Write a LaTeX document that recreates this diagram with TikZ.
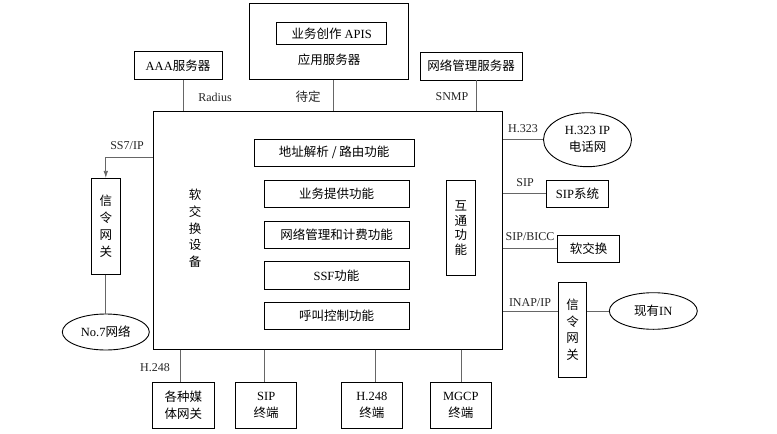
\documentclass[tikz,border=0pt]{standalone}
\usepackage{fontspec}
\setmainfont{Liberation Serif}
\newfontfamily\cjk{Noto Sans CJK SC}
\usetikzlibrary{shapes.geometric,arrows.meta}
\newcommand\zhs[1]{{\cjk #1}}
\begin{document}
\begin{tikzpicture}[x=1pt,y=-1pt,
  box/.style={draw=black,line width=0.9pt,inner sep=0pt,text=black,align=center,
              font=\fontsize{12.5}{17}\selectfont},
  oval/.style={box,ellipse},
  conn/.style={draw=black!60,line width=0.7pt},
  lbl/.style={inner sep=0pt,text=black!85,font=\fontsize{12}{14}\selectfont},
  vtext/.style={inner sep=0pt,align=center,font=\cjk\fontsize{12.5}{16.7}\selectfont}]
\useasboundingbox (0,0) rectangle (777,434);

% main soft switch box
\node[box,minimum width=349.2,minimum height=237.5] (main) at (327.9,230.3) {};
\node[vtext] (ss) at (195,228.3) {软\\交\\换\\设\\备};

% top servers
\node[box,minimum width=159.4,minimum height=76] (app) at (329,41.3) {};
\node[box,minimum width=110,minimum height=21.3] (apis) at (331.7,33.3) {\zhs{业务创作} APIS};
\node[inner sep=0pt,font=\cjk\fontsize{12.5}{14}\selectfont] (apptxt) at (329,60) {应用服务器};
\node[box,minimum width=88,minimum height=27.6] (aaa) at (178,65.5) {AAA\zhs{服务器}};
\node[box,minimum width=102,minimum height=27.7] (nms) at (471,66.1) {\zhs{网络管理服务器}};

\coordinate (xa) at (183.3,0);
\coordinate (xb) at (333.3,0);
\coordinate (xc) at (476,0);
\draw[conn] (aaa.south -| xa) -- (main.north -| xa);
\draw[conn] (app.south -| xb) -- (main.north -| xb);
\draw[conn] (nms.south -| xc) -- (main.north -| xc);
\node[lbl] (radius) at (215,97) {Radius};
\node[lbl,font=\cjk\fontsize{12.5}{14}\selectfont] (tbd) at (308,97) {待定};
\node[lbl] (snmp) at (452,97) {SNMP};

% inner function boxes
\node[box,minimum width=160.3,minimum height=26.7] (f1) at (334.2,152.7) {\zhs{地址解析 / 路由功能}};
\node[box,minimum width=145,minimum height=27.3] (f2) at (336.5,193.7) {\zhs{业务提供功能}};
\node[box,minimum width=145,minimum height=27.3] (f3) at (336.5,234.7) {\zhs{网络管理和计费功能}};
\node[box,minimum width=145,minimum height=27.3] (f4) at (336.5,275.3) {SSF\zhs{功能}};
\node[box,minimum width=145,minimum height=27.3] (f5) at (336.5,316.2) {\zhs{呼叫控制功能}};
\node[box,minimum width=28.3,minimum height=95.7,font=\cjk\fontsize{12.5}{14.5}\selectfont] (hutong) at (460.9,227.9) {互\\通\\功\\能};

% left side
\node[box,minimum width=28.3,minimum height=95.7,font=\cjk\fontsize{12.5}{16.7}\selectfont] (gwl) at (105.8,226.2) {信\\令\\网\\关};
\node[oval,minimum width=87,minimum height=36] (no7) at (105.8,332) {No.7\zhs{网络}};
\coordinate (ssy) at (0,157.7);
\draw[conn,-{Latex[length=7pt,width=4.5pt]}] (main.west |- ssy) -| (gwl.north);
\node[lbl] (ss7) at (127,145.7) {SS7/IP};
\draw[conn] (gwl.south) -- (no7.north);

% bottom terminals
\node[box,minimum width=61.3,minimum height=45.7] (mgw) at (183.3,405.2) {\zhs{各种媒}\\\zhs{体网关}};
\node[box,minimum width=61,minimum height=45.7] (sipt) at (266.2,405.2) {SIP\\\zhs{终端}};
\node[box,minimum width=61.7,minimum height=45.7] (h248t) at (371.8,405.2) {H.248\\\zhs{终端}};
\node[box,minimum width=61.7,minimum height=45.7] (mgcpt) at (460.8,405.2) {MGCP\\\zhs{终端}};
\coordinate (xd) at (180.7,0);
\coordinate (xe) at (264,0);
\coordinate (xf) at (375,0);
\coordinate (xg) at (461,0);
\draw[conn] (main.south -| xd) -- (mgw.north -| xd);
\draw[conn] (main.south -| xe) -- (sipt.north -| xe);
\draw[conn] (main.south -| xf) -- (h248t.north -| xf);
\draw[conn] (main.south -| xg) -- (mgcpt.north -| xg);
\node[lbl] (h248) at (155,368) {H.248};

% right side
\node[oval,minimum width=88,minimum height=54] (h323) at (587.5,139.7) {H.323 IP\\\zhs{电话网}};
\draw[conn] (main.east |- h323.west) -- (h323.west);
\node[lbl] (h323l) at (523,128.3) {H.323};

\node[box,minimum width=61.6,minimum height=27.7] (sips) at (577.5,193.8) {SIP\zhs{系统}};
\draw[conn] (main.east |- sips.west) -- (sips.west);
\node[lbl] (sipl) at (525,182.3) {SIP};

\node[box,minimum width=61.6,minimum height=27.3,font=\cjk\fontsize{12.5}{14}\selectfont] (softsw) at (588.5,248.6) {软交换};
\draw[conn] (main.east |- softsw.west) -- (softsw.west);
\node[lbl] (bicc) at (530,236.7) {SIP/BICC};

\node[box,minimum width=28.4,minimum height=95,font=\cjk\fontsize{12.5}{16.5}\selectfont] (gwr) at (572.5,329.8) {信\\令\\网\\关};
\node[oval,minimum width=88,minimum height=36.6] (in) at (653.3,311) {\zhs{现有}IN};
\coordinate (iny) at (0,311);
\draw[conn] (main.east |- iny) -- (gwr.west |- iny);
\draw[conn] (gwr.east |- iny) -- (in.west);
\node[lbl] (inap) at (530,302.7) {INAP/IP};
\end{tikzpicture}
\end{document}
